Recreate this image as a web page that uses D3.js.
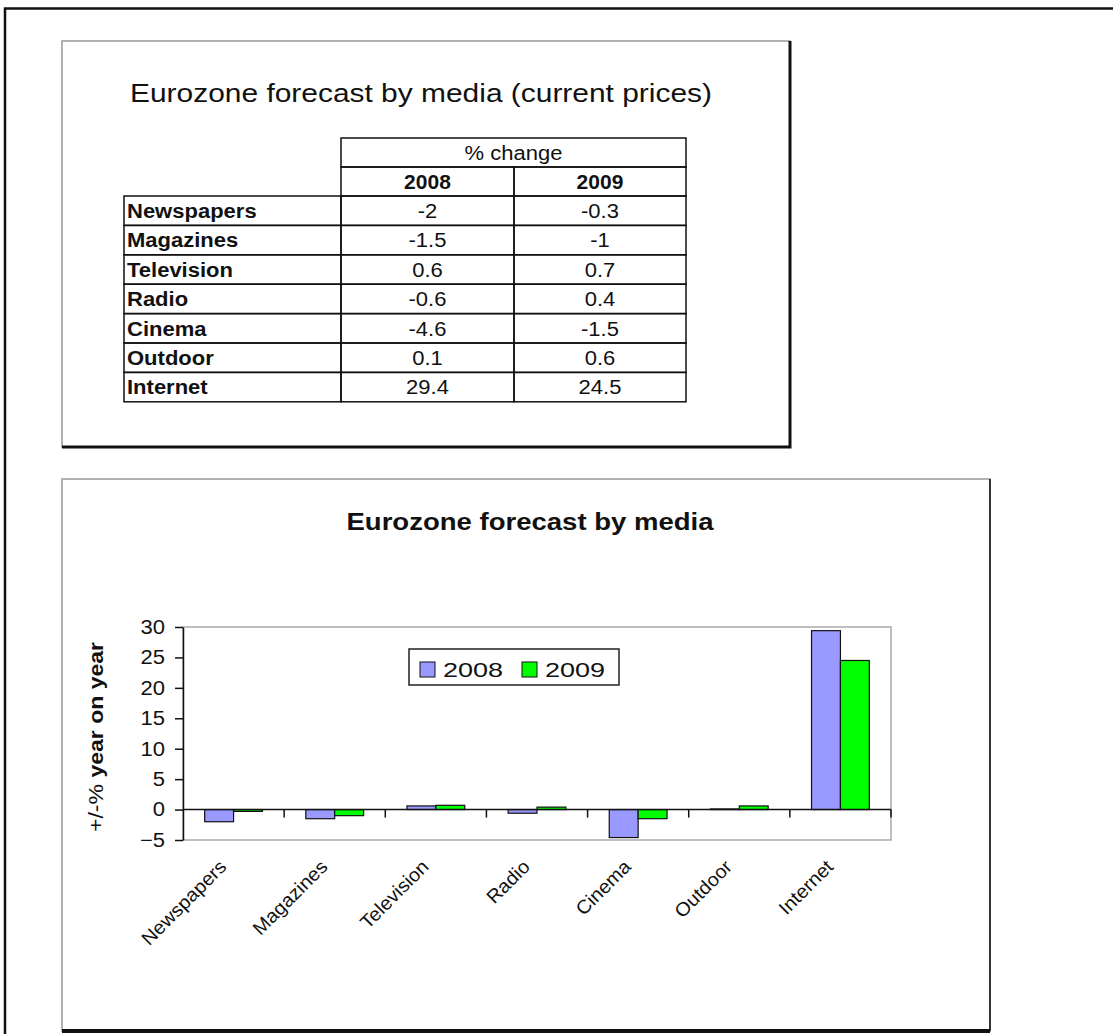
<!DOCTYPE html>
<html>
<head>
  <meta charset="utf-8">
  <script src="https://d3js.org/d3.v7.min.js"></script>
  <title>Eurozone forecast by media</title>
  <style>
    body { margin: 0; background: #fff; }
    text { font-family: "Liberation Sans", Arial, sans-serif; fill: #111; }
  </style>
</head>
<body>
<script>
var media = ["Newspapers", "Magazines", "Television", "Radio", "Cinema", "Outdoor", "Internet"];
var years = ["2008", "2009"];
var change2008 = [-2, -1.5, 0.6, -0.6, -4.6, 0.1, 29.4];
var change2009 = [-0.3, -1, 0.7, 0.4, -1.5, 0.6, 24.5];
var yTicks = [-5, 0, 5, 10, 15, 20, 25, 30];
var colors = ["#9999ff", "#00ff00"];

var rows = media.map(function(m, i) {
  return { name: m, v: [change2008[i], change2009[i]] };
});

// stretch text sideways, the scan of the original is wider than arial
function stretch(sel, k) {
  sel.each(function() {
    var w = this.getComputedTextLength();
    this.setAttribute("textLength", w * k);
    this.setAttribute("lengthAdjust", "spacingAndGlyphs");
  });
}
function fitTo(sel, w) {
  sel.attr("textLength", w).attr("lengthAdjust", "spacingAndGlyphs");
}

var svg = d3.select("body").append("svg")
  .attr("width", 1113)
  .attr("height", 1034);

// outer page frame (only top and left are in view)
svg.append("path")
  .attr("d", "M5,1034V8.5H1113")
  .attr("fill", "none")
  .attr("stroke", "#111")
  .attr("stroke-width", 2.5);

// ---------- table panel ----------
svg.append("rect")
  .attr("x", 62).attr("y", 41).attr("width", 728).attr("height", 406)
  .attr("fill", "#fff").attr("stroke", "#999").attr("stroke-width", 1.5);
svg.append("path")
  .attr("d", "M790,41V447H62")
  .attr("fill", "none").attr("stroke", "#111").attr("stroke-width", 3);

svg.append("text")
  .attr("x", 421).attr("y", 102)
  .attr("text-anchor", "middle")
  .attr("font-size", 26)
  .text("Eurozone forecast by media (current prices)")
  .call(fitTo, 582);

var colX = [124, 341, 514, 686];
var rowH = 29.4;
var headTop = 138;
var bodyTop = 196;
var tb = svg.append("g").attr("class", "table");

var yRow = d3.scaleBand()
  .domain(media)
  .range([bodyTop, bodyTop + rowH * media.length]);

// header cells
tb.append("rect")
  .attr("x", colX[1]).attr("y", headTop)
  .attr("width", colX[3] - colX[1]).attr("height", 29)
  .attr("fill", "none").attr("stroke", "#111").attr("stroke-width", 1.5);
tb.append("text")
  .attr("x", (colX[1] + colX[3]) / 2).attr("y", headTop + 22)
  .attr("text-anchor", "middle").attr("font-size", 20)
  .text("% change")
  .call(stretch, 1.1);

tb.selectAll(".yr")
  .data(years)
  .enter()
  .append("g")
  .each(function(d, i) {
    var g = d3.select(this);
    g.append("rect")
      .attr("x", colX[i + 1]).attr("y", headTop + 29)
      .attr("width", colX[i + 2] - colX[i + 1]).attr("height", bodyTop - headTop - 29)
      .attr("fill", "none").attr("stroke", "#111").attr("stroke-width", 1.5);
    g.append("text")
      .attr("x", (colX[i + 1] + colX[i + 2]) / 2).attr("y", headTop + 51)
      .attr("text-anchor", "middle").attr("font-size", 20).attr("font-weight", "bold")
      .text(d)
      .call(stretch, 1.05);
  });

var tr = tb.selectAll(".row")
  .data(rows)
  .enter()
  .append("g")
  .attr("class", "row")
  .attr("transform", function(d) { return "translate(0," + yRow(d.name) + ")"; });

tr.append("rect")
  .attr("x", colX[0]).attr("width", colX[1] - colX[0]).attr("height", yRow.bandwidth())
  .attr("fill", "none").attr("stroke", "#111").attr("stroke-width", 1.5);
tr.append("text")
  .attr("x", colX[0] + 3).attr("y", 22)
  .attr("font-size", 20).attr("font-weight", "bold")
  .text(function(d) { return d.name; })
  .call(stretch, 1.1);

years.forEach(function(y, j) {
  tr.append("rect")
    .attr("x", colX[j + 1]).attr("width", colX[j + 2] - colX[j + 1]).attr("height", yRow.bandwidth())
    .attr("fill", "none").attr("stroke", "#111").attr("stroke-width", 1.5);
  tr.append("text")
    .attr("x", (colX[j + 1] + colX[j + 2]) / 2).attr("y", 22)
    .attr("text-anchor", "middle").attr("font-size", 20)
    .text(function(d) { return String(d.v[j]); })
    .call(stretch, 1.1);
});

// ---------- chart panel ----------
svg.append("rect")
  .attr("x", 62).attr("y", 479).attr("width", 928).attr("height", 552)
  .attr("fill", "#fff").attr("stroke", "#999").attr("stroke-width", 1.5);
svg.append("path")
  .attr("d", "M990,479V1031")
  .attr("stroke", "#333").attr("stroke-width", 2);
svg.append("path")
  .attr("d", "M62,1031H990")
  .attr("stroke", "#111").attr("stroke-width", 4);

svg.append("text")
  .attr("x", 530).attr("y", 530)
  .attr("text-anchor", "middle")
  .attr("font-size", 23).attr("font-weight", "bold")
  .text("Eurozone forecast by media")
  .call(fitTo, 367);

var plotL = 183, plotR = 891, plotT = 627, plotB = 840;

var x = d3.scaleBand()
  .domain(media)
  .range([plotL, plotR])
  .paddingInner(0)
  .paddingOuter(0);

var x1 = d3.scaleBand()
  .domain(years)
  .range([0, x.bandwidth()])
  .paddingInner(0)
  .paddingOuter(0.75);

var y = d3.scaleLinear()
  .domain([-5, 30])
  .range([plotB, plotT]);

// plot area frame
svg.append("rect")
  .attr("x", plotL).attr("y", plotT).attr("width", plotR - plotL).attr("height", plotB - plotT)
  .attr("fill", "none").attr("stroke", "#aaa").attr("stroke-width", 1.5);

// bars
var groups = svg.selectAll(".cat")
  .data(rows)
  .enter()
  .append("g")
  .attr("class", "cat")
  .attr("transform", function(d) { return "translate(" + x(d.name) + ",0)"; });

groups.selectAll("rect")
  .data(function(d) { return years.map(function(yr, j) { return { yr: yr, v: d.v[j], j: j }; }); })
  .enter()
  .append("rect")
  .attr("x", function(d) { return x1(d.yr); })
  .attr("y", function(d) { return y(Math.max(0, d.v)); })
  .attr("width", x1.bandwidth())
  .attr("height", function(d) { return Math.abs(y(d.v) - y(0)); })
  .attr("fill", function(d) { return colors[d.j]; })
  .attr("stroke", "#111")
  .attr("stroke-width", 1.2);

// y axis
var yAxis = svg.append("g")
  .attr("transform", "translate(" + plotL + ",0)")
  .call(d3.axisLeft(y).tickValues(yTicks).tickSize(8).tickSizeOuter(0).tickPadding(10));
yAxis.select(".domain").attr("stroke", "#111").attr("stroke-width", 1.5);
yAxis.selectAll(".tick line").attr("stroke", "#111").attr("stroke-width", 1.5);
yAxis.selectAll(".tick text")
  .attr("font-size", 20)
  .attr("font-family", "'Liberation Sans', Arial, sans-serif")
  .attr("fill", "#222")
  .call(stretch, 1.1);

// zero line with category dividers
svg.append("line")
  .attr("x1", plotL).attr("x2", plotR)
  .attr("y1", y(0)).attr("y2", y(0))
  .attr("stroke", "#111").attr("stroke-width", 1.5);
svg.selectAll(".divider")
  .data(media)
  .enter()
  .append("line")
  .attr("class", "divider")
  .attr("x1", function(d) { return x(d) + x.bandwidth(); })
  .attr("x2", function(d) { return x(d) + x.bandwidth(); })
  .attr("y1", y(0)).attr("y2", y(0) + 8)
  .attr("stroke", "#111").attr("stroke-width", 1.5);

// category labels
svg.selectAll(".xl")
  .data(media)
  .enter()
  .append("text")
  .attr("class", "xl")
  .attr("text-anchor", "end")
  .attr("font-size", 19)
  .attr("transform", function(d) {
    return "translate(" + (x(d) + x.bandwidth() / 2 - 6) + ",868) rotate(-45)";
  })
  .text(function(d) { return d; })
  .call(stretch, 1.05);

// y axis title, the sign part is lighter than the words
var yt = svg.append("text")
  .attr("transform", "translate(103,737) rotate(-90)")
  .attr("text-anchor", "middle")
  .attr("font-size", 20);
yt.append("tspan").attr("font-weight", "normal").text("+/-%");
yt.append("tspan").attr("font-weight", "bold").text("  year on year");
yt.call(fitTo, 190);

// legend
var lg = svg.append("g").attr("transform", "translate(409,649)");
lg.append("rect")
  .attr("width", 210).attr("height", 36)
  .attr("fill", "#fff").attr("stroke", "#222").attr("stroke-width", 1.5);
var li = lg.selectAll(".li")
  .data(years)
  .enter()
  .append("g")
  .attr("transform", function(d, i) { return "translate(" + (11 + i * 102) + ",0)"; });
li.append("rect")
  .attr("y", 13).attr("width", 15).attr("height", 15)
  .attr("fill", function(d, i) { return colors[i]; })
  .attr("stroke", "#111").attr("stroke-width", 1);
li.append("text")
  .attr("x", 23).attr("y", 28)
  .attr("font-size", 20)
  .text(function(d) { return d; })
  .call(fitTo, 60);
</script>
</body>
</html>
